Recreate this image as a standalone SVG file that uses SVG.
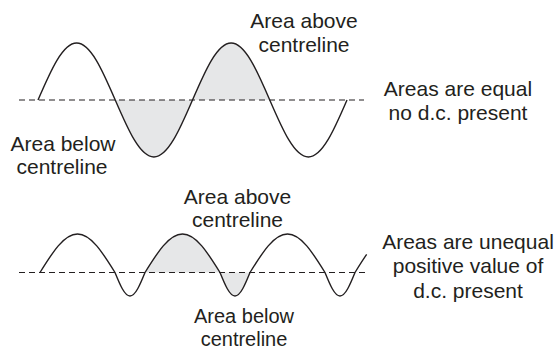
<svg xmlns="http://www.w3.org/2000/svg" width="557" height="350" viewBox="0 0 557 350">
<style>
.wave{fill:none;stroke:#231f20;stroke-width:1.4;stroke-linejoin:round}
.area{fill:#e6e7e8;stroke:none}
.axis{fill:none;stroke:#231f20;stroke-width:1.2;stroke-dasharray:6 4}
text{font-family:"Liberation Sans",Arial,sans-serif;font-size:21px;fill:#231f20;text-anchor:middle}
.small{font-size:20px}
</style>
<rect width="557" height="350" fill="#ffffff"/>
<g id="top-waveform">
<path class="area" d="M 115.25 100 C 127.85 129.2, 139.9 157, 153.88 157 C 167.86 157, 179.91 129.2, 192.5 100 Z"/>
<path class="area" d="M 192.5 100 C 205.1 70.8, 217.15 43, 231.13 43 C 245.11 43, 257.16 70.8, 269.75 100 Z"/>
<line class="axis" x1="19" y1="100" x2="364" y2="100"/>
<path class="wave" d="M 38 100 C 50.6 70.8, 62.65 43, 76.63 43 C 90.61 43, 102.66 70.8, 115.25 100 C 127.85 129.2, 139.9 157, 153.88 157 C 167.86 157, 179.91 129.2, 192.5 100 C 205.1 70.8, 217.15 43, 231.13 43 C 245.11 43, 257.16 70.8, 269.75 100 C 282.35 129.2, 294.4 157, 308.38 157 C 322.36 157, 334.41 129.2, 347 100"/>
</g>
<g id="bottom-waveform">
<path class="area" d="M 145 272.5 C 157.23 252.78, 168.93 234, 182.5 234 C 196.07 234, 207.77 252.78, 220 272.5 C 224.89 284.54, 229.57 296, 235 296 C 240.43 296, 245.11 284.54, 250 272.5 Z"/>
<line class="axis" x1="19" y1="272.5" x2="365" y2="272.5"/>
<path class="wave" d="M 40 272.5 C 52.23 252.78, 63.93 234, 77.5 234 C 91.07 234, 102.77 252.78, 115 272.5 C 119.89 284.54, 124.57 296, 130 296 C 135.43 296, 140.11 284.54, 145 272.5 C 157.23 252.78, 168.93 234, 182.5 234 C 196.07 234, 207.77 252.78, 220 272.5 C 224.89 284.54, 229.57 296, 235 296 C 240.43 296, 245.11 284.54, 250 272.5 C 262.23 252.78, 273.93 234, 287.5 234 C 301.07 234, 312.77 252.78, 325 272.5 C 329.89 284.54, 334.57 296, 340 296 C 345.43 296, 350.11 284.54, 355 272.5 C 358.91 266.19, 362.77 259.98, 366.65 254.44"/>
</g>
<g id="label-top-above">
<text x="304" y="28">Area above</text>
<text x="304" y="51.5">centreline</text>
</g>
<g id="label-top-below">
<text x="63" y="151">Area below</text>
<text x="62" y="173.5">centreline</text>
</g>
<g id="label-top-result">
<text x="458" y="96">Areas are equal</text>
<text x="458" y="119.5">no d.c. present</text>
</g>
<g id="label-bottom-above">
<text x="237.5" y="203.5">Area above</text>
<text x="237.5" y="227">centreline</text>
</g>
<g id="label-bottom-below">
<text class="small" x="244" y="323">Area below</text>
<text class="small" x="244" y="345.5">centreline</text>
</g>
<g id="label-bottom-result">
<text x="468" y="248.5">Areas are unequal</text>
<text x="468" y="273">positive value of</text>
<text x="468" y="297.5">d.c. present</text>
</g>
</svg>
